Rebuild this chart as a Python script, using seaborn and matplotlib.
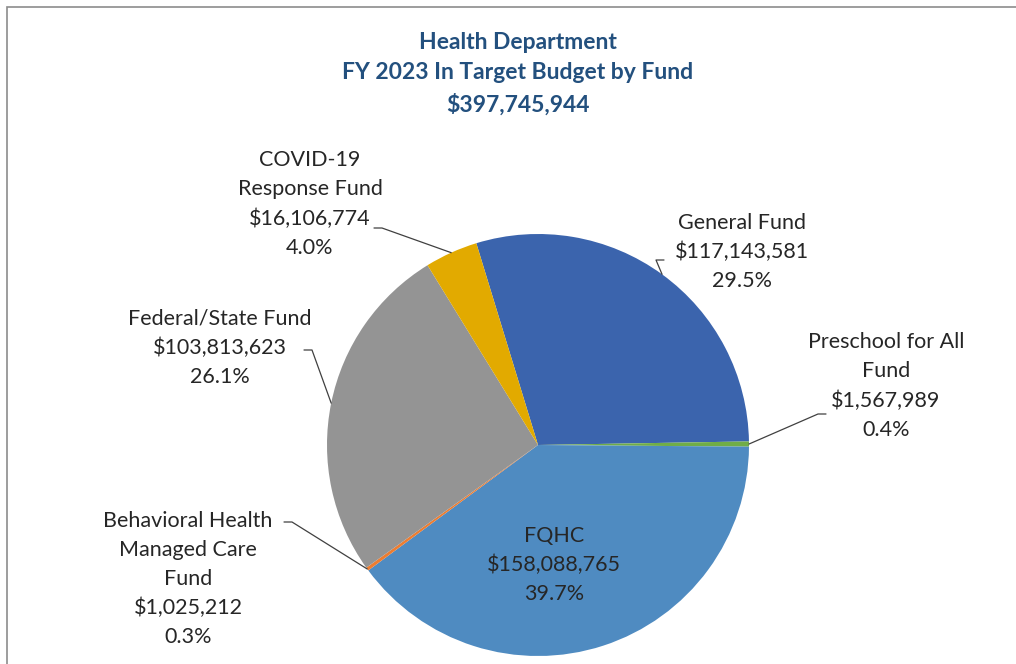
import numpy as np
import seaborn as sns
import matplotlib.pyplot as plt
from matplotlib.patches import Rectangle

# data, in drawing order (clockwise)
funds = ["General Fund", "Preschool for All\nFund", "FQHC", "Behavioral Health\nManaged Care\nFund",
         "Federal/State Fund", "COVID-19\nResponse Fund"]
amounts = [117143581, 1567989, 158088765, 1025212, 103813623, 16106774]
colors = ["#3B64AD", "#70AD47", "#4F8BC1", "#ED7D31", "#949494", "#E2AA00"]

total = sum(amounts)
pcts = [a / total * 100 for a in amounts]

sns.set_theme(style="white")
plt.rcParams["font.family"] = ["Lato", "DejaVu Sans"]

fig = plt.figure(figsize=(10.16, 6.64), dpi=100)
fig.patches.append(Rectangle((7 / 1016, -0.1), 1.2, 1.1 - 7 / 664, transform=fig.transFigure,
                             fill=False, edgecolor="#8C8C8C", linewidth=1.2, figure=fig))

# pie centre at (538, 445) px, radius 211 px
ax = fig.add_axes([(538 - 211) / 1016, (664 - 445 - 211) / 664, 422 / 1016, 422 / 664])
wedges, _ = ax.pie(amounts, colors=colors, startangle=107, counterclock=False,
                   radius=1, wedgeprops=dict(linewidth=0))
ax.set_xlim(-1, 1)
ax.set_ylim(-1, 1)
ax.set_aspect("equal")
ax.axis("off")


def px(x, y):
    return (x - 538) / 211, (445 - y) / 211


# label centre positions (px) and leader anchor next to the text (px), None = no leader
label_pos = [(742, 252), (886, 386), (554, 565), (188, 579), (220, 348), (310, 204)]
anchors = [(664, 260), (826, 414), None, (284, 522), (304, 350), (374, 228)]

for w, name, amt, pct, pos, anc in zip(wedges, funds, amounts, pcts, label_pos, anchors):
    lx, ly = px(*pos)
    txt = f"{name}\n${amt:,.0f}\n{pct:.1f}%"
    ax.text(lx, ly, txt, ha="center", va="center", fontsize=15.5, color="#262626",
            linespacing=1.55, clip_on=False)
    if anc is not None:
        mid = np.deg2rad((w.theta1 + w.theta2) / 2)
        ex, ey = np.cos(mid), np.sin(mid)
        ax_, ay_ = px(*anc)
        if anc[0] < 538:
            hx = ax_ + 8 / 211
        else:
            hx = ax_ - 8 / 211
        ax.plot([ax_, hx, ex], [ay_, ay_, ey], color="#404040", lw=0.9, clip_on=False)

fig.text(518 / 1016, 1 - 74 / 664, "Health Department\nFY 2023 In Target Budget by Fund\n$" + f"{total:,.0f}",
         ha="center", va="center", fontsize=16.5, fontweight="bold", color="#23507E", linespacing=1.55)

fig.savefig("out.png", dpi=100)
